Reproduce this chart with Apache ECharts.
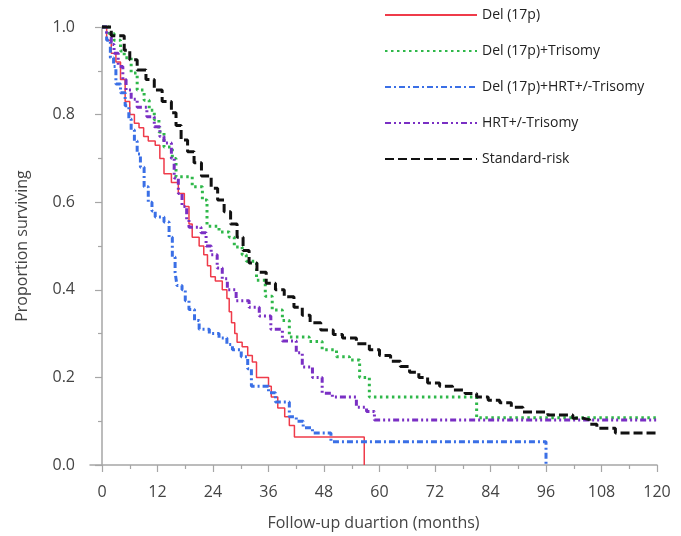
<!DOCTYPE html>
<html>
<head>
<meta charset="utf-8">
<script src="https://cdn.jsdelivr.net/npm/echarts@6/dist/echarts.min.js"></script>
<style>
html,body{margin:0;padding:0;background:#fff;}
#c{width:681px;height:536px;}
</style>
</head>
<body>
<div id="c"></div>
<script>
var seriesNames = ['Del (17p)', 'Del (17p)+Trisomy', 'Del (17p)+HRT+/-Trisomy', 'HRT+/-Trisomy', 'Standard-risk'];

var delMonths = [0,1,2,3,4,5,6,7,8,9,10,11.5,12.5,13.4,15,16.5,17.8,18.8,19.5,21,22,22.8,23.5,24.5,26,27,27.5,28,28.7,29.2,30.3,31.5,32.5,33.4,36,36.6,38,39.5,40.5,41.6,56.7];
var delSurv   = [1,0.97,0.94,0.92,0.88,0.83,0.80,0.78,0.77,0.75,0.74,0.73,0.70,0.665,0.645,0.62,0.59,0.55,0.52,0.50,0.48,0.455,0.43,0.42,0.40,0.38,0.35,0.325,0.30,0.28,0.27,0.25,0.235,0.20,0.18,0.155,0.13,0.11,0.09,0.064,0];

var triMonths = [0,1.5,2.6,4,4.8,6.3,7.6,9.1,10.2,11.3,12.3,13.4,15.2,16,19.5,21.7,22.7,25.3,27.5,28.6,30.3,31.2,33.4,35.3,36.8,39,40.5,44.8,47.6,50.7,53.5,55.7,57.8,81,121];
var triSurv   = [1,0.985,0.97,0.945,0.93,0.895,0.856,0.833,0.81,0.788,0.76,0.726,0.70,0.658,0.635,0.605,0.545,0.532,0.52,0.498,0.48,0.465,0.422,0.385,0.354,0.33,0.292,0.282,0.263,0.247,0.24,0.20,0.155,0.108,0.108];

var hrtDelMonths = [0,1,1.8,2.5,3,4,5,5.8,6.3,7,7.6,8.3,9.1,10,10.8,11.5,13.4,14.5,15.2,15.8,16.2,17.3,18,18.8,20,21,23.2,25.3,27,28.2,30.1,31.5,32.3,36,37.5,40.5,42,43.5,45.5,49.5,96];
var hrtDelSurv   = [1,0.97,0.93,0.91,0.87,0.85,0.82,0.79,0.765,0.74,0.71,0.68,0.635,0.60,0.58,0.566,0.555,0.52,0.475,0.44,0.41,0.40,0.375,0.355,0.33,0.31,0.30,0.29,0.275,0.263,0.247,0.22,0.18,0.165,0.144,0.11,0.10,0.085,0.073,0.053,0];

var hrtMonths = [0,1,2,2.6,3.5,4.5,5.2,6.3,7.6,9.7,11.3,12.5,13.4,15,15.6,16.5,17.3,18.3,18.8,21.4,22.5,23.6,24.9,26,27.1,29,31.8,34,36.5,39,42,43.3,45.5,47.6,49.8,55,57.2,58.9,121];
var hrtSurv   = [1,0.985,0.96,0.94,0.91,0.88,0.856,0.835,0.817,0.795,0.772,0.75,0.735,0.70,0.655,0.62,0.59,0.56,0.543,0.53,0.50,0.48,0.45,0.425,0.40,0.375,0.36,0.34,0.31,0.283,0.256,0.224,0.20,0.164,0.155,0.132,0.122,0.103,0.103];

var stdMonths = [0,2,4.8,6,7.6,9.5,11.3,13,15,16,17.1,18.5,19.9,21.5,23.6,25,26.4,27.8,29.2,30.5,31.8,33.5,35.5,37.5,39.4,41.5,43.3,45,47.3,50,52,55,57.8,60,62.4,64.5,66.5,68.5,70.4,73,75.8,78.5,81,83.5,86,88.5,91,96.4,101.8,104,105.5,107,111,121];
var stdSurv   = [1,0.98,0.947,0.925,0.902,0.88,0.856,0.83,0.804,0.775,0.742,0.715,0.69,0.66,0.632,0.605,0.578,0.55,0.52,0.49,0.461,0.44,0.415,0.40,0.384,0.36,0.342,0.325,0.308,0.298,0.29,0.277,0.263,0.25,0.237,0.225,0.212,0.20,0.187,0.18,0.171,0.163,0.155,0.148,0.142,0.132,0.121,0.114,0.107,0.103,0.093,0.084,0.073,0.073];

var xTickLabels = [0,12,24,36,48,60,72,84,96,108,120];
var xMinorTicks = [6,18,30,42,54,66,78,90,102,114];

function zip(a, b) { return a.map(function (v, i) { return [v, b[i]]; }); }

var font = 'Open Sans';
var axisColor = '#a6a6a6';
var labelColor = '#444444';

var styles = [
  {color: '#ef3b4a', width: 1.5, type: 'solid'},
  {color: '#2fb84a', width: 3, type: [2.5, 3.5]},
  {color: '#3a6fe6', width: 3, type: [6, 3, 2, 3]},
  {color: '#7a2fc4', width: 3, type: [6, 3, 2, 3, 2, 3]},
  {color: '#111111', width: 3, type: [9, 4]}
];
var datas = [zip(delMonths, delSurv), zip(triMonths, triSurv), zip(hrtDelMonths, hrtDelSurv), zip(hrtMonths, hrtSurv), zip(stdMonths, stdSurv)];
var order = [4, 3, 1, 2, 0];

var series = seriesNames.map(function (n, i) {
  return {
    name: n, type: 'line', step: 'end', symbol: 'none', clip: false,
    data: datas[i], xAxisIndex: 0, yAxisIndex: 0,
    lineStyle: {color: styles[i].color, width: styles[i].width, type: styles[i].type},
    itemStyle: {color: styles[i].color},
    z: 10 - order.indexOf(i)
  };
});

var chart = echarts.init(document.getElementById('c'), null, {renderer: 'canvas'});
chart.setOption({
  animation: false,
  backgroundColor: '#ffffff',
  grid: {left: 90, right: 24, top: 27, bottom: 71, containLabel: false},
  legend: {
    data: seriesNames, orient: 'vertical', left: 379, top: 3,
    itemWidth: 92, itemHeight: 14, itemGap: 22,
    itemStyle: {opacity: 0},
    textStyle: {fontFamily: font, fontSize: 14, color: '#222'}
  },
  xAxis: [{
    type: 'value', min: -2.6, max: 120,
    name: 'Follow-up duartion (months)', nameLocation: 'middle', nameGap: 50,
    nameTextStyle: {fontFamily: font, fontSize: 16, color: labelColor},
    axisLine: {show: true, lineStyle: {color: axisColor, width: 1.5}},
    axisTick: {show: true, length: 7, lineStyle: {color: axisColor, width: 1.2}, customValues: xTickLabels},
    axisLabel: {fontFamily: font, fontSize: 16, color: labelColor, margin: 19, customValues: xTickLabels},
    splitLine: {show: false}
  }, {
    type: 'value', min: -2.6, max: 120, position: 'bottom',
    axisLine: {show: false},
    axisTick: {show: true, length: 4, lineStyle: {color: axisColor, width: 1.2}, customValues: xMinorTicks},
    axisLabel: {show: false},
    splitLine: {show: false}
  }],
  yAxis: [{
    type: 'value', min: 0, max: 1, interval: 0.2,
    name: 'Proportion surviving', nameLocation: 'middle', nameGap: 60,
    nameTextStyle: {fontFamily: font, fontSize: 16, color: labelColor},
    axisLine: {show: true, lineStyle: {color: axisColor, width: 1.5}},
    axisTick: {show: true, length: 7, lineStyle: {color: axisColor, width: 1.2}},
    minorTick: {show: true, splitNumber: 2, length: 4, lineStyle: {color: axisColor, width: 1.2}},
    axisLabel: {fontFamily: font, fontSize: 16, color: labelColor, margin: 15, formatter: function (v) { return v.toFixed(1); }},
    splitLine: {show: false}
  }],
  series: series
});
</script>
</body>
</html>
